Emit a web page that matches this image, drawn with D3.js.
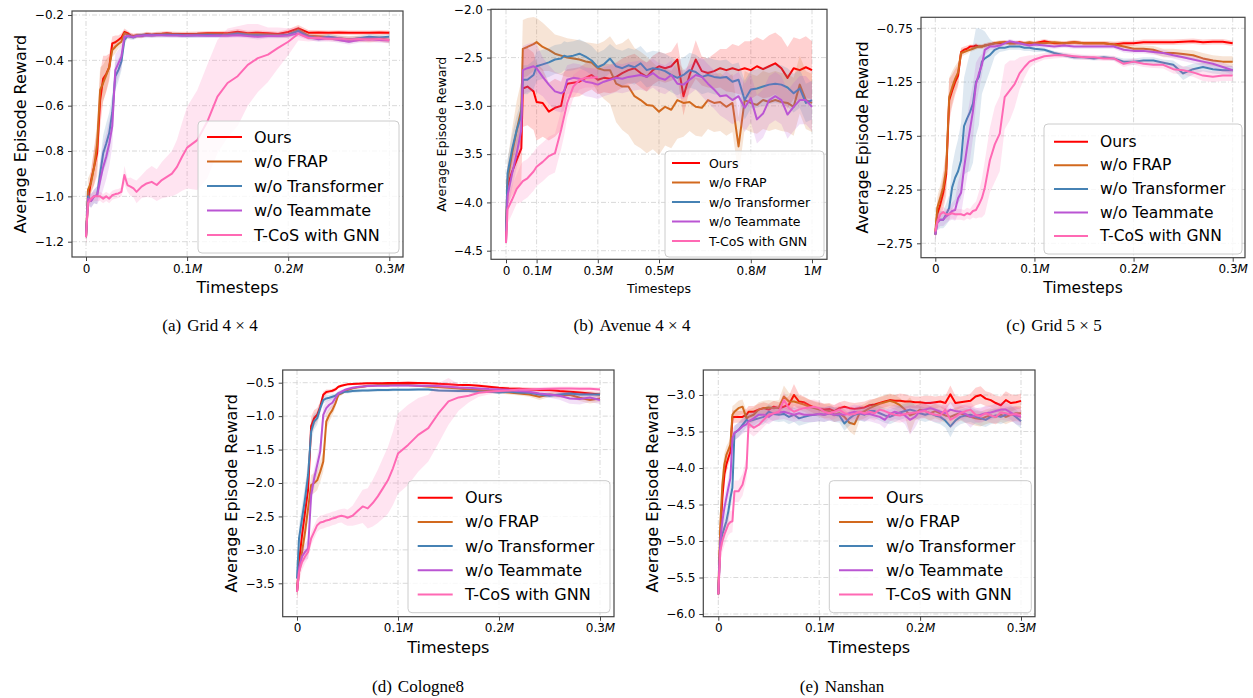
<!DOCTYPE html>
<html>
<head>
<meta charset="utf-8">
<script src="https://cdn.jsdelivr.net/npm/d3@7"></script>
<style>
  body { margin: 0; background: #fff; }
  svg { display: block; font-family: "DejaVu Sans", sans-serif; }
</style>
</head>
<body>
<svg id="fig" width="1253" height="698"></svg>
<script>
// ---------------- data ----------------
var seriesNames = ["Ours", "w/o FRAP", "w/o Transformer", "w/o Teammate", "T-CoS with GNN"];
var captionLabels = ["(a)", "(b)", "(c)", "(d)", "(e)"];
var captionNames = ["Grid 4 \u00d7 4", "Avenue 4 \u00d7 4", "Grid 5 \u00d7 5", "Cologne8", "Nanshan"];

// tick values / labels
var xTicks03 = [0, 0.1, 0.2, 0.3];
var xTickLabels03 = ["0", "0.1M", "0.2M", "0.3M"];
var xTicksB = [0, 0.1, 0.3, 0.5, 0.8, 1];
var xTickLabelsB = ["0", "0.1M", "0.3M", "0.5M", "0.8M", "1M"];
var yTicksA = [-1.2, -1.0, -0.8, -0.6, -0.4, -0.2];
var yTickLabelsA = ["\u22121.2", "\u22121.0", "\u22120.8", "\u22120.6", "\u22120.4", "\u22120.2"];
var yTicksB = [-4.5, -4.0, -3.5, -3.0, -2.5, -2.0];
var yTickLabelsB = ["\u22124.5", "\u22124.0", "\u22123.5", "\u22123.0", "\u22122.5", "\u22122.0"];
var yTicksC = [-2.75, -2.25, -1.75, -1.25, -0.75];
var yTickLabelsC = ["\u22122.75", "\u22122.25", "\u22121.75", "\u22121.25", "\u22120.75"];
var yTicksD = [-3.5, -3.0, -2.5, -2.0, -1.5, -1.0, -0.5];
var yTickLabelsD = ["\u22123.5", "\u22123.0", "\u22122.5", "\u22122.0", "\u22121.5", "\u22121.0", "\u22120.5"];
var yTicksE = [-6.0, -5.5, -5.0, -4.5, -4.0, -3.5, -3.0];
var yTickLabelsE = ["\u22126.0", "\u22125.5", "\u22125.0", "\u22124.5", "\u22124.0", "\u22123.5", "\u22123.0"];

// timesteps (in millions)
var timesteps03 = [
  0, 0.002, 0.005, 0.008, 0.011, 0.014, 0.017, 0.02,
  0.023, 0.026, 0.029, 0.032, 0.035, 0.038, 0.041, 0.044,
  0.047, 0.05, 0.055, 0.06, 0.065, 0.07, 0.075, 0.08,
  0.085, 0.09, 0.095, 0.1, 0.11, 0.12, 0.13, 0.14,
  0.15, 0.16, 0.17, 0.18, 0.19, 0.2, 0.21, 0.22,
  0.23, 0.24, 0.25, 0.26, 0.27, 0.28, 0.29, 0.3
];
var timestepsB = [
  0, 0.005, 0.02, 0.035, 0.05, 0.055, 0.07, 0.09,
  0.1, 0.12, 0.14, 0.16, 0.18, 0.19, 0.2, 0.22,
  0.24, 0.26, 0.28, 0.3, 0.32, 0.34, 0.36, 0.38,
  0.4, 0.42, 0.44, 0.46, 0.48, 0.5, 0.52, 0.54,
  0.56, 0.58, 0.6, 0.62, 0.64, 0.66, 0.68, 0.7,
  0.72, 0.74, 0.76, 0.78, 0.8, 0.82, 0.84, 0.86,
  0.88, 0.9, 0.92, 0.94, 0.96, 0.98, 1.0
];
var timestepsE = [
  0, 0.002, 0.004, 0.006, 0.008, 0.01, 0.012, 0.014,
  0.016, 0.02, 0.024, 0.028, 0.03, 0.035, 0.04, 0.045,
  0.05, 0.055, 0.06, 0.065, 0.07, 0.075, 0.08, 0.085,
  0.09, 0.095, 0.1, 0.105, 0.11, 0.115, 0.12, 0.125,
  0.13, 0.135, 0.14, 0.145, 0.15, 0.155, 0.16, 0.165,
  0.17, 0.175, 0.18, 0.185, 0.19, 0.195, 0.2, 0.205,
  0.21, 0.215, 0.22, 0.225, 0.23, 0.235, 0.24, 0.245,
  0.25, 0.255, 0.26, 0.265, 0.27, 0.275, 0.28, 0.285,
  0.29, 0.295, 0.3
];

// (a) Grid 4x4
var oursA = [
  -1.18, -1.02, -0.93, -0.87, -0.81, -0.575, -0.48, -0.46,
  -0.43, -0.325, -0.32, -0.31, -0.30, -0.275, -0.28, -0.29,
  -0.293, -0.29, -0.293, -0.284, -0.287, -0.284, -0.283, -0.281,
  -0.283, -0.284, -0.284, -0.284, -0.283, -0.281, -0.281, -0.28,
  -0.274, -0.28, -0.278, -0.281, -0.284, -0.275, -0.259, -0.278,
  -0.277, -0.278, -0.277, -0.278, -0.278, -0.278, -0.277, -0.278
];
var oursSdA = [
  0.03, 0.04, 0.05, 0.08, 0.1, 0.12, 0.1, 0.08,
  0.06, 0.03, 0.03, 0.02, 0.02, 0.015, 0.012, 0.012,
  0.01, 0.01, 0.01, 0.01, 0.01, 0.01, 0.01, 0.01,
  0.01, 0.01, 0.01, 0.01, 0.01, 0.01, 0.01, 0.01,
  0.012, 0.01, 0.01, 0.01, 0.01, 0.012, 0.015, 0.012,
  0.01, 0.01, 0.01, 0.01, 0.01, 0.01, 0.01, 0.01
];
var frapA = [
  -1.18, -0.97, -0.94, -0.87, -0.77, -0.53, -0.50, -0.465,
  -0.43, -0.355, -0.34, -0.328, -0.318, -0.28, -0.287, -0.291,
  -0.294, -0.291, -0.288, -0.286, -0.288, -0.286, -0.285, -0.285,
  -0.286, -0.286, -0.287, -0.287, -0.286, -0.285, -0.285, -0.284,
  -0.282, -0.284, -0.284, -0.286, -0.288, -0.287, -0.266, -0.291,
  -0.294, -0.297, -0.303, -0.307, -0.304, -0.307, -0.303, -0.31
];
var frapSdA = [
  0.03, 0.05, 0.05, 0.08, 0.1, 0.1, 0.08, 0.07,
  0.05, 0.03, 0.03, 0.02, 0.02, 0.015, 0.012, 0.012,
  0.01, 0.01, 0.01, 0.01, 0.01, 0.01, 0.01, 0.01,
  0.01, 0.01, 0.01, 0.01, 0.01, 0.01, 0.01, 0.01,
  0.01, 0.01, 0.01, 0.01, 0.01, 0.012, 0.015, 0.012,
  0.012, 0.012, 0.014, 0.014, 0.014, 0.014, 0.014, 0.015
];
var transA = [
  -1.18, -1.0, -1.02, -1.0, -0.995, -0.90, -0.81, -0.767,
  -0.72, -0.63, -0.47, -0.443, -0.406, -0.31, -0.293, -0.296,
  -0.299, -0.293, -0.29, -0.288, -0.289, -0.288, -0.288, -0.287,
  -0.288, -0.288, -0.289, -0.29, -0.289, -0.288, -0.289, -0.288,
  -0.281, -0.288, -0.289, -0.29, -0.291, -0.287, -0.27, -0.296,
  -0.303, -0.296, -0.303, -0.31, -0.303, -0.296, -0.299, -0.296
];
var transSdA = [
  0.03, 0.03, 0.03, 0.03, 0.04, 0.06, 0.08, 0.09,
  0.09, 0.08, 0.06, 0.05, 0.04, 0.02, 0.012, 0.012,
  0.01, 0.01, 0.01, 0.01, 0.01, 0.01, 0.01, 0.01,
  0.01, 0.01, 0.01, 0.01, 0.01, 0.01, 0.01, 0.01,
  0.01, 0.01, 0.01, 0.01, 0.01, 0.012, 0.015, 0.012,
  0.012, 0.012, 0.012, 0.014, 0.012, 0.012, 0.012, 0.012
];
var teamA = [
  -1.18, -1.01, -1.02, -1.0, -0.995, -0.93, -0.87, -0.825,
  -0.767, -0.69, -0.443, -0.413, -0.384, -0.296, -0.293, -0.295,
  -0.297, -0.293, -0.291, -0.289, -0.29, -0.289, -0.289, -0.29,
  -0.29, -0.29, -0.291, -0.29, -0.29, -0.291, -0.29, -0.291,
  -0.289, -0.293, -0.296, -0.293, -0.293, -0.29, -0.281, -0.298,
  -0.307, -0.303, -0.31, -0.318, -0.31, -0.307, -0.31, -0.313
];
var teamSdA = [
  0.03, 0.03, 0.03, 0.03, 0.04, 0.08, 0.1, 0.1,
  0.1, 0.09, 0.07, 0.06, 0.05, 0.02, 0.012, 0.012,
  0.01, 0.01, 0.01, 0.01, 0.01, 0.01, 0.01, 0.01,
  0.01, 0.01, 0.01, 0.01, 0.01, 0.01, 0.01, 0.01,
  0.01, 0.01, 0.012, 0.01, 0.01, 0.012, 0.015, 0.012,
  0.012, 0.012, 0.012, 0.012, 0.012, 0.012, 0.012, 0.012
];
var gnnA = [
  -1.18, -1.03, -1.01, -1.0, -1.0, -1.0, -1.01, -1.0,
  -1.01, -0.995, -0.99, -0.987, -0.98, -0.906, -0.95, -0.957,
  -0.965, -0.98, -0.957, -0.943, -0.936, -0.95, -0.928, -0.914,
  -0.9, -0.87, -0.825, -0.785, -0.752, -0.67, -0.56, -0.5,
  -0.47, -0.42, -0.39, -0.375, -0.345, -0.318, -0.283, -0.302,
  -0.3, -0.306, -0.304, -0.308, -0.306, -0.308, -0.306, -0.31
];
var gnnSdA = [
  0.03, 0.03, 0.02, 0.02, 0.02, 0.02, 0.02, 0.02,
  0.02, 0.02, 0.02, 0.02, 0.02, 0.04, 0.03, 0.04,
  0.04, 0.05, 0.05, 0.06, 0.07, 0.07, 0.08, 0.09,
  0.1, 0.12, 0.15, 0.18, 0.22, 0.25, 0.25, 0.24,
  0.22, 0.18, 0.15, 0.12, 0.09, 0.06, 0.03, 0.015,
  0.012, 0.012, 0.012, 0.012, 0.012, 0.012, 0.012, 0.012
];

// (b) Avenue 4x4
var oursB = [
  -4.4, -3.83, -3.68, -3.56, -3.44, -2.82, -2.8, -2.85,
  -2.96, -2.97, -3.06, -3.02, -3.0, -2.85, -2.77, -2.76,
  -2.75, -2.71, -2.68, -2.73, -2.71, -2.72, -2.7, -2.66,
  -2.63, -2.61, -2.66, -2.7, -2.63, -2.59, -2.61, -2.59,
  -2.52, -2.9, -2.68, -2.52, -2.64, -2.66, -2.64, -2.61,
  -2.63, -2.61, -2.63, -2.61, -2.63, -2.59, -2.62, -2.59,
  -2.56, -2.61, -2.71, -2.61, -2.63, -2.6, -2.63
];
var oursSdB = [
  0.05, 0.2, 0.25, 0.3, 0.35, 0.4, 0.4, 0.4,
  0.4, 0.35, 0.3, 0.3, 0.25, 0.2, 0.15, 0.15,
  0.15, 0.15, 0.15, 0.15, 0.15, 0.15, 0.15, 0.15,
  0.15, 0.15, 0.15, 0.15, 0.15, 0.15, 0.15, 0.15,
  0.18, 0.2, 0.15, 0.2, 0.15, 0.15, 0.18, 0.2,
  0.22, 0.25, 0.25, 0.28, 0.3, 0.3, 0.3, 0.32,
  0.32, 0.32, 0.32, 0.32, 0.32, 0.32, 0.3
];
var frapB = [
  -4.3, -3.77, -3.49, -3.25, -3.04, -2.41, -2.39, -2.36,
  -2.34, -2.39, -2.42, -2.46, -2.48, -2.49, -2.5, -2.51,
  -2.52, -2.54, -2.55, -2.61, -2.63, -2.63, -2.77, -2.8,
  -2.8, -2.9, -2.94, -2.99, -3.0, -3.06, -3.01, -3.04,
  -2.94, -2.97, -2.96, -3.01, -3.02, -2.94, -2.97, -2.96,
  -3.01, -2.97, -3.42, -2.94, -2.97, -2.99, -2.94, -2.96,
  -2.94, -2.96, -2.97, -3.01, -2.78, -2.94, -2.97
];
var frapSdB = [
  0.05, 0.2, 0.25, 0.3, 0.3, 0.3, 0.3, 0.28,
  0.25, 0.25, 0.22, 0.2, 0.2, 0.2, 0.2, 0.2,
  0.2, 0.2, 0.2, 0.25, 0.3, 0.35, 0.4, 0.45,
  0.5, 0.5, 0.5, 0.5, 0.45, 0.45, 0.4, 0.4,
  0.4, 0.35, 0.3, 0.3, 0.3, 0.3, 0.3, 0.3,
  0.3, 0.3, 0.3, 0.3, 0.3, 0.3, 0.3, 0.3,
  0.3, 0.3, 0.3, 0.3, 0.3, 0.3, 0.3
];
var transB = [
  -4.3, -3.7, -3.45, -3.25, -3.1, -2.73, -2.73, -2.68,
  -2.59, -2.57, -2.55, -2.52, -2.51, -2.48, -2.49, -2.48,
  -2.46, -2.49, -2.53, -2.6, -2.57, -2.51, -2.59, -2.61,
  -2.58, -2.6, -2.56, -2.63, -2.61, -2.62, -2.64, -2.68,
  -2.71, -2.68, -2.63, -2.65, -2.7, -2.68, -2.7, -2.71,
  -2.7, -2.75, -2.73, -2.94, -2.83, -2.82, -2.8, -2.78,
  -2.77, -2.78, -2.81, -2.87, -2.82, -2.97, -2.94
];
var transSdB = [
  0.05, 0.15, 0.15, 0.15, 0.15, 0.15, 0.15, 0.15,
  0.15, 0.15, 0.15, 0.15, 0.15, 0.15, 0.15, 0.15,
  0.15, 0.15, 0.15, 0.15, 0.15, 0.15, 0.18, 0.18,
  0.18, 0.18, 0.18, 0.18, 0.18, 0.18, 0.18, 0.18,
  0.18, 0.18, 0.18, 0.18, 0.18, 0.18, 0.18, 0.18,
  0.18, 0.18, 0.18, 0.2, 0.2, 0.2, 0.2, 0.2,
  0.2, 0.2, 0.2, 0.2, 0.2, 0.2, 0.2
];
var teamB = [
  -4.42, -3.93, -3.7, -3.49, -3.25, -2.63, -2.61, -2.59,
  -2.61, -2.7, -2.78, -2.85, -2.87, -2.85, -2.73, -2.71,
  -2.72, -2.75, -2.76, -2.78, -2.75, -2.73, -2.71, -2.72,
  -2.7, -2.69, -2.68, -2.7, -2.66, -2.71, -2.73, -2.68,
  -2.77, -2.78, -2.73, -2.68, -2.7, -2.77, -2.83, -2.9,
  -2.89, -2.94, -2.9, -3.02, -2.92, -3.14, -3.08, -2.94,
  -2.9, -2.94, -3.09, -3.01, -2.94, -2.94, -3.01
];
var teamSdB = [
  0.05, 0.15, 0.15, 0.15, 0.2, 0.25, 0.25, 0.25,
  0.25, 0.2, 0.2, 0.2, 0.2, 0.2, 0.15, 0.15,
  0.15, 0.15, 0.15, 0.15, 0.15, 0.15, 0.15, 0.15,
  0.15, 0.15, 0.15, 0.15, 0.15, 0.15, 0.15, 0.15,
  0.15, 0.15, 0.15, 0.15, 0.2, 0.2, 0.2, 0.2,
  0.25, 0.25, 0.25, 0.25, 0.25, 0.25, 0.25, 0.25,
  0.25, 0.25, 0.25, 0.25, 0.25, 0.25, 0.25
];
var gnnB = [
  -4.42, -4.07, -3.97, -3.86, -3.8, -3.78, -3.75, -3.68,
  -3.63, -3.58, -3.52, -3.49, -3.25, -3.11, -2.97, -2.8,
  -2.73, -2.71, -2.71, -2.7, null, null, null, null,
  null, null, null, null, null, null, null, null,
  null, null, null, null, null, null, null, null,
  null, null, null, null, null, null, null, null,
  null, null, null, null, null, null, null
];
var gnnSdB = [
  0.05, 0.15, 0.15, 0.15, 0.2, 0.2, 0.2, 0.2,
  0.2, 0.2, 0.2, 0.2, 0.2, 0.2, 0.15, 0.12,
  0.1, 0.1, 0.1, 0.1, null, null, null, null,
  null, null, null, null, null, null, null, null,
  null, null, null, null, null, null, null, null,
  null, null, null, null, null, null, null, null,
  null, null, null, null, null, null, null
];

// (c) Grid 5x5
var oursC = [
  -2.67, -2.48, -2.39, -2.28, -2.11, -1.42, -1.33, -1.25,
  -1.19, -0.97, -0.95, -0.94, -0.92, -0.92, -0.91, -0.92,
  -0.92, -0.91, -0.90, -0.89, -0.89, -0.88, -0.89, -0.89,
  -0.88, -0.89, -0.89, -0.89, -0.87, -0.89, -0.89, -0.88,
  -0.89, -0.89, -0.89, -0.90, -0.89, -0.89, -0.88, -0.88,
  -0.88, -0.88, -0.875, -0.87, -0.88, -0.875, -0.875, -0.89
];
var oursSdC = [
  0.05, 0.1, 0.12, 0.15, 0.2, 0.2, 0.15, 0.12,
  0.1, 0.04, 0.03, 0.03, 0.02, 0.02, 0.02, 0.02,
  0.02, 0.02, 0.02, 0.02, 0.02, 0.02, 0.02, 0.02,
  0.02, 0.02, 0.02, 0.02, 0.02, 0.02, 0.02, 0.02,
  0.02, 0.02, 0.02, 0.025, 0.025, 0.025, 0.025, 0.025,
  0.025, 0.025, 0.025, 0.025, 0.025, 0.025, 0.025, 0.025
];
var frapC = [
  -2.64, -2.42, -2.33, -2.23, -2.06, -1.39, -1.30, -1.22,
  -1.16, -0.98, -0.97, -0.96, -0.95, -0.94, -0.93, -0.92,
  -0.92, -0.91, -0.90, -0.89, -0.88, -0.88, -0.89, -0.89,
  -0.89, -0.89, -0.88, -0.89, -0.89, -0.88, -0.89, -0.88,
  -0.89, -0.89, -0.89, -0.90, -0.92, -0.94, -0.94, -0.95,
  -0.98, -0.98, -0.99, -1.0, -1.03, -1.05, -1.06, -1.06
];
var frapSdC = [
  0.05, 0.1, 0.12, 0.15, 0.18, 0.18, 0.15, 0.12,
  0.1, 0.04, 0.03, 0.03, 0.02, 0.02, 0.02, 0.02,
  0.02, 0.02, 0.02, 0.02, 0.02, 0.02, 0.02, 0.02,
  0.02, 0.02, 0.02, 0.02, 0.02, 0.02, 0.02, 0.02,
  0.02, 0.02, 0.02, 0.025, 0.03, 0.03, 0.03, 0.035,
  0.04, 0.04, 0.04, 0.045, 0.05, 0.05, 0.05, 0.05
];
var transC = [
  -2.67, -2.55, -2.53, -2.53, -2.48, -2.42, -2.23, -2.14,
  -2.08, -1.98, -1.66, -1.59, -1.53, -1.45, -1.25, -1.2,
  -1.06, -1.03, -1.0, -0.95, -0.93, -0.93, -0.92, -0.92,
  -0.92, -0.93, -0.93, -0.94, -0.95, -0.98, -1.0, -1.02,
  -1.02, -1.03, -1.02, -1.03, -1.06, -1.06, -1.05, -1.05,
  -1.07, -1.09, -1.17, -1.13, -1.11, -1.13, -1.14, -1.14
];
var transSdC = [
  0.05, 0.08, 0.08, 0.08, 0.1, 0.12, 0.2, 0.25,
  0.3, 0.35, 0.45, 0.5, 0.55, 0.55, 0.5, 0.45,
  0.3, 0.25, 0.15, 0.06, 0.04, 0.03, 0.03, 0.03,
  0.03, 0.03, 0.03, 0.03, 0.02, 0.02, 0.02, 0.02,
  0.02, 0.02, 0.02, 0.02, 0.03, 0.03, 0.03, 0.03,
  0.03, 0.04, 0.06, 0.05, 0.04, 0.04, 0.04, 0.04
];
var teamC = [
  -2.67, -2.56, -2.53, -2.53, -2.50, -2.48, -2.45, -2.44,
  -2.33, -2.28, -2.05, -1.86, -1.69, -1.52, -1.27, -1.17,
  -1.09, -0.95, -0.92, -0.92, -0.91, -0.89, -0.87, -0.88,
  -0.89, -0.90, -0.91, -0.90, -0.91, -0.92, -0.91, -0.92,
  -0.92, -0.92, -0.92, -0.92, -0.95, -0.96, -0.96, -0.97,
  -0.98, -1.0, -1.02, -1.04, -1.06, -1.08, -1.11, -1.14
];
var teamSdC = [
  0.05, 0.06, 0.06, 0.06, 0.06, 0.06, 0.08, 0.1,
  0.15, 0.2, 0.25, 0.28, 0.28, 0.25, 0.2, 0.15,
  0.1, 0.05, 0.03, 0.03, 0.02, 0.02, 0.02, 0.02,
  0.02, 0.02, 0.02, 0.02, 0.02, 0.02, 0.02, 0.02,
  0.02, 0.02, 0.02, 0.02, 0.025, 0.025, 0.025, 0.025,
  0.03, 0.03, 0.035, 0.035, 0.04, 0.04, 0.04, 0.04
];
var gnnC = [
  -2.64, -2.55, -2.48, -2.46, -2.48, -2.48, -2.47, -2.48,
  -2.48, -2.48, -2.49, -2.47, -2.48, -2.45, -2.44, -2.39,
  -2.33, -2.23, -1.98, -1.83, -1.73, -1.39, -1.33, -1.27,
  -1.17, -1.11, -1.06, -1.04, -1.01, -1.0, -1.0, -1.01,
  -1.02, -1.02, -1.03, -1.03, -1.08, -1.06, -1.08, -1.09,
  -1.09, -1.13, -1.14, -1.16, -1.19, -1.2, -1.19, -1.19
];
var gnnSdC = [
  0.05, 0.06, 0.05, 0.05, 0.05, 0.05, 0.05, 0.05,
  0.05, 0.05, 0.05, 0.05, 0.05, 0.06, 0.08, 0.12,
  0.18, 0.25, 0.3, 0.35, 0.35, 0.3, 0.28, 0.22,
  0.15, 0.1, 0.06, 0.04, 0.03, 0.03, 0.025, 0.025,
  0.025, 0.025, 0.025, 0.025, 0.03, 0.03, 0.03, 0.03,
  0.035, 0.04, 0.04, 0.04, 0.05, 0.05, 0.05, 0.05
];

// (d) Cologne8
var oursD = [
  -3.63, -3.18, -2.78, -2.43, -2.1, -1.15, -1.03, -0.98,
  -0.86, -0.68, -0.64, -0.63, -0.62, -0.60, -0.56, -0.545,
  -0.535, -0.525, -0.52, -0.515, -0.512, -0.51, -0.507, -0.51,
  -0.507, -0.505, -0.505, -0.505, -0.5, -0.505, -0.51, -0.515,
  -0.525, -0.535, -0.535, -0.545, -0.56, -0.575, -0.585, -0.59,
  -0.6, -0.61, -0.61, -0.625, -0.635, -0.645, -0.66, -0.675
];
var oursSdD = [
  0.1, 0.15, 0.15, 0.15, 0.15, 0.15, 0.12, 0.1,
  0.08, 0.05, 0.04, 0.03, 0.03, 0.03, 0.02, 0.02,
  0.015, 0.015, 0.015, 0.015, 0.015, 0.015, 0.015, 0.015,
  0.015, 0.015, 0.015, 0.015, 0.015, 0.015, 0.015, 0.015,
  0.015, 0.015, 0.015, 0.02, 0.02, 0.02, 0.025, 0.025,
  0.03, 0.03, 0.03, 0.03, 0.03, 0.03, 0.035, 0.035
];
var frapD = [
  -3.63, -3.33, -3.03, -2.73, -2.38, -2.03, -2.0, -1.96,
  -1.83, -1.68, -1.08, -0.98, -0.91, -0.81, -0.68, -0.66,
  -0.635, -0.61, -0.585, -0.57, -0.56, -0.545, -0.545, -0.535,
  -0.535, -0.535, -0.535, -0.535, -0.535, -0.545, -0.555, -0.565,
  -0.575, -0.585, -0.6, -0.61, -0.62, -0.635, -0.645, -0.66,
  -0.675, -0.71, -0.675, -0.69, -0.68, -0.725, -0.76, -0.735
];
var frapSdD = [
  0.1, 0.15, 0.15, 0.15, 0.15, 0.15, 0.15, 0.15,
  0.15, 0.15, 0.12, 0.1, 0.08, 0.06, 0.04, 0.03,
  0.02, 0.02, 0.02, 0.02, 0.02, 0.02, 0.02, 0.02,
  0.02, 0.02, 0.02, 0.02, 0.02, 0.02, 0.02, 0.02,
  0.02, 0.02, 0.02, 0.02, 0.025, 0.025, 0.03, 0.03,
  0.035, 0.05, 0.04, 0.04, 0.04, 0.05, 0.05, 0.05
];
var transD = [
  -3.43, -2.83, -2.53, -2.23, -1.88, -1.23, -1.08, -1.03,
  -0.88, -0.76, -0.735, -0.725, -0.71, -0.695, -0.66, -0.65,
  -0.635, -0.635, -0.625, -0.62, -0.615, -0.615, -0.612, -0.61,
  -0.61, -0.61, -0.607, -0.605, -0.605, -0.6, -0.6, -0.615,
  -0.62, -0.625, -0.625, -0.635, -0.635, -0.645, -0.635, -0.645,
  -0.65, -0.675, -0.695, -0.675, -0.66, -0.675, -0.675, -0.675
];
var transSdD = [
  0.15, 0.2, 0.2, 0.2, 0.2, 0.15, 0.12, 0.1,
  0.08, 0.06, 0.05, 0.04, 0.04, 0.035, 0.03, 0.03,
  0.025, 0.025, 0.025, 0.025, 0.025, 0.025, 0.025, 0.025,
  0.02, 0.02, 0.02, 0.02, 0.02, 0.02, 0.02, 0.02,
  0.02, 0.02, 0.02, 0.02, 0.02, 0.02, 0.02, 0.02,
  0.025, 0.03, 0.03, 0.03, 0.03, 0.03, 0.03, 0.03
];
var teamD = [
  -3.63, -3.28, -3.1, -3.03, -2.98, -2.18, -1.93, -1.73,
  -1.53, -0.98, -0.88, -0.83, -0.8, -0.73, -0.66, -0.635,
  -0.61, -0.595, -0.575, -0.565, -0.555, -0.55, -0.545, -0.545,
  -0.545, -0.545, -0.54, -0.54, -0.54, -0.545, -0.545, -0.55,
  -0.56, -0.57, -0.575, -0.585, -0.595, -0.6, -0.61, -0.625,
  -0.635, -0.66, -0.675, -0.695, -0.735, -0.745, -0.72, -0.76
];
var teamSdD = [
  0.1, 0.12, 0.12, 0.12, 0.15, 0.15, 0.15, 0.15,
  0.15, 0.12, 0.1, 0.08, 0.08, 0.06, 0.04, 0.03,
  0.02, 0.02, 0.02, 0.02, 0.02, 0.02, 0.02, 0.02,
  0.02, 0.02, 0.02, 0.02, 0.02, 0.02, 0.02, 0.02,
  0.02, 0.02, 0.02, 0.02, 0.025, 0.025, 0.03, 0.03,
  0.035, 0.04, 0.05, 0.06, 0.08, 0.08, 0.07, 0.06
];
var gnnD = [
  -3.63, -3.33, -3.18, -3.1, -3.03, -2.83, -2.73, -2.63,
  -2.59, -2.58, -2.56, -2.55, -2.53, -2.52, -2.5, -2.49,
  -2.5, -2.52, -2.49, -2.42, -2.35, -2.38, -2.3, -2.2,
  -2.08, -1.96, -1.78, -1.56, -1.43, -1.28, -1.18, -0.96,
  -0.78, -0.72, -0.695, -0.65, -0.635, -0.625, -0.615, -0.6,
  -0.6, -0.595, -0.59, -0.585, -0.585, -0.59, -0.59, -0.6
];
var gnnSdD = [
  0.15, 0.15, 0.12, 0.1, 0.1, 0.1, 0.1, 0.1,
  0.1, 0.1, 0.1, 0.1, 0.1, 0.1, 0.1, 0.1,
  0.12, 0.12, 0.15, 0.2, 0.25, 0.3, 0.35, 0.4,
  0.45, 0.5, 0.55, 0.6, 0.6, 0.55, 0.5, 0.45,
  0.35, 0.2, 0.1, 0.06, 0.04, 0.03, 0.03, 0.03,
  0.03, 0.03, 0.03, 0.03, 0.03, 0.03, 0.03, 0.03
];

// (e) Nanshan
var oursE = [
  -5.73, -4.95, -4.41, -4.09, -3.95, -3.86, -3.78, -3.3,
  -3.3, -3.3, -3.3, -3.27, -3.23, -3.23, -3.2, -3.18,
  -3.2, -3.16, -3.18, -3.16, -3.13, -3.0, -3.09, -3.1,
  -3.14, -3.17, -3.19, -3.2, -3.19, -3.22, -3.18, -3.16,
  -3.18, -3.19, -3.18, -3.17, -3.14, -3.13, -3.11, -3.09,
  -3.07, -3.08, -3.08, -3.09, -3.09, -3.1, -3.1, -3.11,
  -3.11, -3.1, -3.09, -3.11, -2.99, -3.11, -3.1, -3.09,
  -3.08, -3.02, -3.0, -3.05, -3.07, -3.11, -3.14, -3.07,
  -3.11, -3.1, -3.08
];
var oursSdE = [
  0.1, 0.2, 0.2, 0.15, 0.12, 0.1, 0.1, 0.1,
  0.08, 0.08, 0.08, 0.08, 0.08, 0.08, 0.08, 0.08,
  0.08, 0.08, 0.08, 0.1, 0.12, 0.15, 0.1, 0.08,
  0.08, 0.08, 0.08, 0.08, 0.08, 0.08, 0.08, 0.08,
  0.08, 0.08, 0.08, 0.08, 0.08, 0.08, 0.08, 0.08,
  0.08, 0.08, 0.1, 0.1, 0.08, 0.08, 0.08, 0.1,
  0.1, 0.08, 0.08, 0.1, 0.12, 0.1, 0.08, 0.08,
  0.1, 0.12, 0.12, 0.1, 0.1, 0.1, 0.12, 0.12,
  0.12, 0.1, 0.1
];
var frapE = [
  -5.73, -4.77, -4.23, -3.95, -3.82, -3.75, -3.68, -3.27,
  -3.23, -3.18, -3.16, -3.32, -3.3, -3.27, -3.2, -3.18,
  -3.17, -3.18, -3.17, -3.02, -3.09, -3.09, -3.11, -3.13,
  -3.16, -3.18, -3.2, -3.22, -3.22, -3.27, -3.25, -3.3,
  -3.38, -3.4, -3.25, -3.22, -3.18, -3.15, -3.12, -3.1,
  -3.08, -3.1, -3.14, -3.2, -3.28, -3.25, -3.2, -3.22,
  -3.25, -3.22, -3.25, -3.28, -3.3, -3.27, -3.25, -3.28,
  -3.3, -3.32, -3.33, -3.3, -3.28, -3.3, -3.27, -3.3,
  -3.27, -3.25, -3.25
];
var frapSdE = [
  0.1, 0.2, 0.2, 0.15, 0.12, 0.1, 0.1, 0.12,
  0.1, 0.1, 0.1, 0.1, 0.1, 0.1, 0.1, 0.1,
  0.1, 0.1, 0.1, 0.15, 0.12, 0.1, 0.1, 0.1,
  0.1, 0.1, 0.1, 0.1, 0.1, 0.1, 0.1, 0.1,
  0.12, 0.15, 0.1, 0.1, 0.1, 0.1, 0.1, 0.1,
  0.1, 0.1, 0.1, 0.1, 0.25, 0.1, 0.1, 0.1,
  0.1, 0.1, 0.1, 0.1, 0.1, 0.1, 0.1, 0.1,
  0.1, 0.1, 0.1, 0.1, 0.1, 0.1, 0.1, 0.1,
  0.1, 0.1, 0.1
];
var transE = [
  -5.73, -5.05, -4.91, -4.82, -4.73, -4.59, -4.41, -4.27,
  -3.52, -3.48, -3.41, -3.34, -3.36, -3.34, -3.32, -3.3,
  -3.23, -3.26, -3.27, -3.26, -3.3, -3.27, -3.32, -3.3,
  -3.28, -3.27, -3.26, -3.27, -3.25, -3.27, -3.28, -3.39,
  -3.32, -3.27, -3.25, -3.27, -3.22, -3.22, -3.25, -3.28,
  -3.3, -3.27, -3.24, -3.22, -3.2, -3.22, -3.25, -3.27,
  -3.25, -3.28, -3.3, -3.35, -3.43, -3.35, -3.3, -3.28,
  -3.27, -3.3, -3.32, -3.34, -3.3, -3.28, -3.3, -3.27,
  -3.25, -3.3, -3.36
];
var transSdE = [
  0.1, 0.15, 0.15, 0.15, 0.15, 0.15, 0.15, 0.15,
  0.1, 0.1, 0.1, 0.1, 0.1, 0.1, 0.1, 0.1,
  0.1, 0.1, 0.1, 0.1, 0.1, 0.1, 0.1, 0.1,
  0.1, 0.1, 0.1, 0.1, 0.1, 0.1, 0.1, 0.1,
  0.1, 0.1, 0.1, 0.1, 0.1, 0.1, 0.1, 0.1,
  0.1, 0.1, 0.1, 0.1, 0.1, 0.1, 0.1, 0.1,
  0.1, 0.1, 0.1, 0.1, 0.15, 0.1, 0.1, 0.1,
  0.1, 0.1, 0.1, 0.1, 0.1, 0.1, 0.1, 0.1,
  0.1, 0.1, 0.1
];
var teamE = [
  -5.73, -5.0, -4.73, -4.55, -4.41, -4.27, -4.14, -3.59,
  -3.52, -3.48, -3.43, -3.4, -3.36, -3.32, -3.27, -3.27,
  -3.3, -3.25, -3.24, -3.23, -3.25, -3.27, -3.25, -3.27,
  -3.27, -3.27, -3.26, -3.27, -3.25, -3.27, -3.26, -3.27,
  -3.25, -3.23, -3.25, -3.26, -3.26, -3.28, -3.3, -3.34,
  -3.26, -3.23, -3.25, -3.28, -3.34, -3.3, -3.22, -3.2,
  -3.18, -3.2, -3.23, -3.25, -3.2, -3.22, -3.23, -3.26,
  -3.3, -3.28, -3.27, -3.25, -3.24, -3.22, -3.2, -3.2,
  -3.24, -3.28, -3.3
];
var teamSdE = [
  0.1, 0.2, 0.2, 0.15, 0.15, 0.15, 0.15, 0.12,
  0.1, 0.1, 0.1, 0.1, 0.1, 0.1, 0.1, 0.1,
  0.1, 0.1, 0.1, 0.1, 0.1, 0.1, 0.1, 0.1,
  0.1, 0.1, 0.1, 0.1, 0.1, 0.1, 0.1, 0.1,
  0.1, 0.1, 0.1, 0.1, 0.1, 0.1, 0.1, 0.12,
  0.1, 0.1, 0.1, 0.12, 0.2, 0.15, 0.1, 0.1,
  0.1, 0.1, 0.1, 0.1, 0.1, 0.1, 0.1, 0.12,
  0.15, 0.1, 0.1, 0.1, 0.1, 0.1, 0.1, 0.1,
  0.1, 0.12, 0.12
];
var gnnE = [
  -5.73, -5.14, -5.0, -4.91, -4.84, -4.77, -4.74, -4.73,
  -4.32, -4.32, -4.23, -4.0, -3.39, -3.45, -3.41, -3.34,
  -3.27, -3.25, -3.23, -3.07, -3.18, -3.23, -3.2, -3.18,
  -3.17, -3.16, -3.18, -3.23, -3.25, -3.23, -3.2, -3.25,
  -3.27, -3.26, -3.23, -3.25, -3.23, -3.25, -3.2, -3.22,
  -3.25, -3.27, -3.28, -3.26, -3.25, -3.24, -3.23, -3.22,
  -3.25, -3.27, -3.28, -3.2, -3.34, -3.3, -3.25, -3.22,
  -3.2, -3.27, -3.29, -3.25, -3.28, -3.3, -3.24, -3.25,
  -3.27, -3.26, -3.28
];
var gnnSdE = [
  0.1, 0.15, 0.15, 0.15, 0.15, 0.15, 0.15, 0.15,
  0.15, 0.15, 0.15, 0.15, 0.12, 0.12, 0.1, 0.1,
  0.1, 0.1, 0.1, 0.12, 0.1, 0.1, 0.1, 0.1,
  0.1, 0.1, 0.1, 0.1, 0.1, 0.1, 0.1, 0.1,
  0.1, 0.1, 0.1, 0.1, 0.1, 0.1, 0.1, 0.1,
  0.1, 0.1, 0.1, 0.1, 0.1, 0.1, 0.1, 0.1,
  0.1, 0.1, 0.1, 0.12, 0.12, 0.1, 0.1, 0.1,
  0.1, 0.1, 0.1, 0.1, 0.1, 0.1, 0.1, 0.1,
  0.1, 0.1, 0.1
];

// ---------------- layout ----------------
var colors = ["#ff0000", "#d2691e", "#4682b4", "#ba55d3", "#ff69b4"];

var panels = [
  { x: timesteps03, ys: [oursA, frapA, transA, teamA, gnnA], sds: [oursSdA, frapSdA, transSdA, teamSdA, gnnSdA],
    box: {l: 72, r: 403, t: 11, b: 257}, xAnc: [[0, 86], [0.3, 389.3]], yAnc: [[-0.2, 15], [-1.2, 241.7]],
    xTicks: xTicks03, xLabels: xTickLabels03, yTicks: yTicksA, yLabels: yTickLabelsA,
    font: 16, yLabelX: 20, xLabelY: 287,
    legend: {x: 198, y: 121, w: 201, h: 132, first: 16, step: 24.5, l0: 9, l1: 44, tx: 56},
    caption: {x: 210, y: 325} },
  { x: timestepsB, ys: [oursB, frapB, transB, teamB, gnnB], sds: [oursSdB, frapSdB, transSdB, teamSdB, gnnSdB],
    box: {l: 491, r: 827, t: 9.3, b: 259.3}, xAnc: [[0, 506], [1, 812]], yAnc: [[-2.0, 9.3], [-4.5, 250.7]],
    xTicks: xTicksB, xLabels: xTickLabelsB, yTicks: yTicksB, yLabels: yTickLabelsB,
    font: 12.5, yLabelX: 441, xLabelY: 288.5,
    legend: {x: 665, y: 151, w: 159, h: 106, first: 12, step: 19.5, l0: 7, l1: 35, tx: 44},
    caption: {x: 632, y: 325} },
  { x: timesteps03, ys: [oursC, frapC, transC, teamC, gnnC], sds: [oursSdC, frapSdC, transSdC, teamSdC, gnnSdC],
    box: {l: 921, r: 1245, t: 17.3, b: 257.7}, xAnc: [[0, 935.3], [0.3, 1232.7]], yAnc: [[-0.75, 28.3], [-2.75, 243.3]],
    xTicks: xTicks03, xLabels: xTickLabels03, yTicks: yTicksC, yLabels: yTickLabelsC,
    font: 15.5, yLabelX: 863, xLabelY: 287.5,
    legend: {x: 1044, y: 124, w: 198, h: 130, first: 17.7, step: 23.6, l0: 10, l1: 44, tx: 56},
    caption: {x: 1054, y: 325} },
  { x: timesteps03, ys: [oursD, frapD, transD, teamD, gnnD], sds: [oursSdD, frapSdD, transSdD, teamSdD, gnnSdD],
    box: {l: 282.7, r: 614, t: 370, b: 616.7}, xAnc: [[0, 297], [0.3, 600]], yAnc: [[-0.5, 382.7], [-3.5, 583.3]],
    xTicks: xTicks03, xLabels: xTickLabels03, yTicks: yTicksD, yLabels: yTickLabelsD,
    font: 16, yLabelX: 231.7, xLabelY: 647.5,
    legend: {x: 408, y: 480.7, w: 202, h: 132, first: 17, step: 24.2, l0: 9.7, l1: 44.7, tx: 57},
    caption: {x: 418, y: 686} },
  { x: timestepsE, ys: [oursE, frapE, transE, teamE, gnnE], sds: [oursSdE, frapSdE, transSdE, teamSdE, gnnSdE],
    box: {l: 703.3, r: 1035, t: 370, b: 616.7}, xAnc: [[0, 718.3], [0.3, 1021]], yAnc: [[-3.0, 395], [-6.0, 614]],
    xTicks: xTicks03, xLabels: xTickLabels03, yTicks: yTicksE, yLabels: yTickLabelsE,
    font: 16, yLabelX: 652.7, xLabelY: 647.5,
    legend: {x: 829.3, y: 480.7, w: 202, h: 132, first: 17, step: 24.2, l0: 9.7, l1: 43.7, tx: 56.7},
    caption: {x: 842, y: 686} }
];

var svg = d3.select("#fig");

panels.forEach(function(p, pi) {
  var x = d3.scaleLinear().domain([p.xAnc[0][0], p.xAnc[1][0]]).range([p.xAnc[0][1], p.xAnc[1][1]]);
  var y = d3.scaleLinear().domain([p.yAnc[0][0], p.yAnc[1][0]]).range([p.yAnc[0][1], p.yAnc[1][1]]);
  var box = p.box;

  var clipId = "clip" + pi;
  svg.append("clipPath").attr("id", clipId)
    .append("rect")
    .attr("x", box.l).attr("y", box.t)
    .attr("width", box.r - box.l).attr("height", box.b - box.t);

  // grid
  var grid = svg.append("g").attr("class", "grid");
  grid.selectAll("line.gx").data(p.xTicks).enter().append("line")
    .attr("x1", d => x(d)).attr("x2", d => x(d))
    .attr("y1", box.t).attr("y2", box.b)
    .attr("stroke", "#cfcfcf").attr("stroke-width", 0.8)
    .attr("stroke-dasharray", "5,2,1,2");
  grid.selectAll("line.gy").data(p.yTicks).enter().append("line")
    .attr("x1", box.l).attr("x2", box.r)
    .attr("y1", d => y(d)).attr("y2", d => y(d))
    .attr("stroke", "#cfcfcf").attr("stroke-width", 0.8)
    .attr("stroke-dasharray", "5,2,1,2");

  // bands + lines
  var plot = svg.append("g").attr("clip-path", "url(#" + clipId + ")");
  p.ys.forEach(function(vals, si) {
    var pts = p.x.map(function(t, i) {
      return {t: t, v: vals[i], s: p.sds[si][i]};
    });
    var ok = d => d.v !== null && d.v !== undefined;
    var area = d3.area().defined(ok)
      .x(d => x(d.t))
      .y0(d => y(d.v - d.s))
      .y1(d => y(d.v + d.s));
    var line = d3.line().defined(ok)
      .x(d => x(d.t))
      .y(d => y(d.v));
    plot.append("path").datum(pts)
      .attr("d", area)
      .attr("fill", colors[si])
      .attr("fill-opacity", 0.18)
      .attr("stroke", "none");
    plot.append("path").datum(pts)
      .attr("d", line)
      .attr("fill", "none")
      .attr("stroke", colors[si])
      .attr("stroke-width", 2)
      .attr("stroke-linejoin", "round");
  });

  // spines
  svg.append("rect")
    .attr("x", box.l).attr("y", box.t)
    .attr("width", box.r - box.l).attr("height", box.b - box.t)
    .attr("fill", "none").attr("stroke", "#444").attr("stroke-width", 1.2);

  // axes
  var xAxis = svg.append("g")
    .attr("transform", `translate(0, ${box.b})`)
    .call(d3.axisBottom(x).tickValues(p.xTicks).tickSize(4).tickPadding(3).tickFormat(""));
  xAxis.select(".domain").remove();
  xAxis.selectAll(".tick line").attr("stroke", "#444");
  xAxis.selectAll(".tick text").each(function(d) {
    var lab = p.xLabels[p.xTicks.indexOf(d)];
    var t = d3.select(this).attr("font-size", 12).attr("font-family", "DejaVu Sans").attr("fill", "#000");
    if (lab.slice(-1) === "M") {
      t.append("tspan").text(lab.slice(0, -1));
      t.append("tspan").attr("font-style", "italic").text("M");
    } else {
      t.text(lab);
    }
  });

  var yAxis = svg.append("g")
    .attr("transform", `translate(${box.l}, 0)`)
    .call(d3.axisLeft(y).tickValues(p.yTicks).tickSize(4).tickPadding(4)
      .tickFormat((d) => p.yLabels[p.yTicks.indexOf(d)]));
  yAxis.select(".domain").remove();
  yAxis.selectAll(".tick line").attr("stroke", "#444");
  yAxis.selectAll(".tick text")
    .attr("font-size", 12).attr("font-family", "DejaVu Sans").attr("fill", "#000");

  // axis labels
  svg.append("text")
    .attr("transform", `translate(${p.yLabelX}, ${(box.t + box.b) / 2}) rotate(-90)`)
    .attr("text-anchor", "middle")
    .attr("dominant-baseline", "central")
    .attr("font-size", p.font)
    .text("Average Episode Reward");
  svg.append("text")
    .attr("x", (box.l + box.r) / 2)
    .attr("y", p.xLabelY)
    .attr("text-anchor", "middle")
    .attr("dominant-baseline", "central")
    .attr("font-size", p.font)
    .text("Timesteps");

  // legend
  var lg = p.legend;
  var leg = svg.append("g").attr("transform", `translate(${lg.x}, ${lg.y})`);
  leg.append("rect")
    .attr("width", lg.w).attr("height", lg.h)
    .attr("rx", 4).attr("ry", 4)
    .attr("fill", "#fff").attr("fill-opacity", 0.8)
    .attr("stroke", "#cccccc").attr("stroke-width", 1);
  seriesNames.forEach(function(name, si) {
    var yy = lg.first + si * lg.step;
    leg.append("line")
      .attr("x1", lg.l0).attr("x2", lg.l1)
      .attr("y1", yy).attr("y2", yy)
      .attr("stroke", colors[si]).attr("stroke-width", 2);
    leg.append("text")
      .attr("x", lg.tx).attr("y", yy)
      .attr("dominant-baseline", "central")
      .attr("font-size", p.font)
      .text(name);
  });

  // caption
  var cap = svg.append("text")
    .attr("x", p.caption.x).attr("y", p.caption.y)
    .attr("text-anchor", "middle")
    .attr("dominant-baseline", "central")
    .attr("font-family", "Liberation Serif, serif")
    .attr("font-size", 17);
  cap.append("tspan").text(captionLabels[pi]);
  cap.append("tspan").attr("dx", 6).text(captionNames[pi]);
});
</script>
</body>
</html>
